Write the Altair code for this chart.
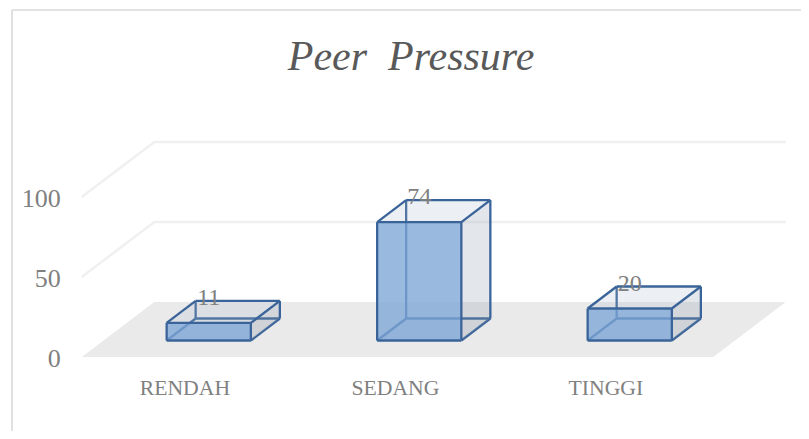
import altair as alt
import pandas as pd

categories = ["RENDAH", "SEDANG", "TINGGI"]
values = [11, 74, 20]
grid_values = [50, 100]
tick_values = [0, 50, 100]
title_text = "Peer\u00a0\u00a0Pressure"

# Oblique projection of (category, value, depth) into the two chart scales
DEPTH_X = 72.5 / 210.5   # category units per unit of depth
DEPTH_Y = 55 / 1.6       # value units per unit of depth
BAR_W, D0, D1 = 0.4, 0.3, 0.7

def px(c, d):
    return c + DEPTH_X * d

def py(v, d):
    return v + DEPTH_Y * d

x_min, x_max = (8 - 187) / 210.5, (801 - 187) / 210.5
y_min, y_max = -(431 - 357) / 1.6, (357 - 8) / 1.6
x_scale = alt.Scale(domain=[x_min, x_max], nice=False, zero=False)
y_scale = alt.Scale(domain=[y_min, y_max], nice=False, zero=False)
X = lambda f: alt.X(f, type="quantitative", scale=x_scale, axis=None)
Y = lambda f: alt.Y(f, type="quantitative", scale=y_scale, axis=None)

# Floor (horizontal parallel sides)
floor = pd.DataFrame(
    [{"sy": py(0, d), "x0": px(-0.5, d), "x1": px(2.5, d)} for d in (0, 1)]
)
# Frame
frame_x, frame_y = -0.8314, 216.9
frame_top = pd.DataFrame({"sx": [frame_x, x_max], "sy": [frame_y, frame_y]})
frame_left = pd.DataFrame({"sx": [frame_x, frame_x], "sy": [y_min, frame_y]})

# Grid lines
grid_rows = []
for g in grid_values:
    grid_rows += [
        {"g": g, "o": 0, "sx": px(-0.5, 0), "sy": py(g, 0)},
        {"g": g, "o": 1, "sx": px(-0.5, 1), "sy": py(g, 1)},
        {"g": g, "o": 2, "sx": px(2.5, 1), "sy": py(g, 1)},
    ]
grid = pd.DataFrame(grid_rows)

# Bars
vert_faces, horiz_faces, front_faces, back_edges, front_edges = [], [], [], [], []
for i, (cat, v) in enumerate(zip(categories, values)):
    l, r = i - BAR_W / 2, i + BAR_W / 2
    for d in (D0, D1):
        vert_faces.append({"f": f"r{i}", "sx": px(r, d), "y0": py(0, d), "y1": py(v, d)})
    for d in (D0, D1):
        horiz_faces.append({"f": f"t{i}", "kind": "top", "sy": py(v, d), "x0": px(l, d), "x1": px(r, d)})
        horiz_faces.append({"f": f"b{i}", "kind": "bottom", "sy": py(0, d), "x0": px(l, d), "x1": px(r, d)})
    front_faces.append({"x0": px(l, D0), "x1": px(r, D0), "y0": py(0, D0), "y1": py(v, D0)})

    def edge(store, name, a, b):
        store.append({"e": f"{i}{name}", "o": 0, "sx": px(a[0], a[2]), "sy": py(a[1], a[2])})
        store.append({"e": f"{i}{name}", "o": 1, "sx": px(b[0], b[2]), "sy": py(b[1], b[2])})

    # hidden edges (seen through the front face)
    edge(back_edges, "a", (l, 0, D0), (l, 0, D1))
    edge(back_edges, "b", (l, 0, D1), (r, 0, D1))
    edge(back_edges, "c", (l, 0, D1), (l, v, D1))
    edge(back_edges, "d", (r, 0, D0), (r, 0, D1))
    # visible edges
    edge(front_edges, "e", (l, 0, D0), (r, 0, D0))
    edge(front_edges, "f", (r, 0, D0), (r, v, D0))
    edge(front_edges, "g", (r, v, D0), (l, v, D0))
    edge(front_edges, "h", (l, v, D0), (l, 0, D0))
    edge(front_edges, "i", (l, v, D0), (l, v, D1))
    edge(front_edges, "j", (l, v, D1), (r, v, D1))
    edge(front_edges, "k", (r, v, D1), (r, v, D0))
    edge(front_edges, "l", (r, v, D1), (r, 0, D1))

vert_df = pd.DataFrame(vert_faces)
horiz_df = pd.DataFrame(horiz_faces)
front_df = pd.DataFrame(front_faces)
back_df = pd.DataFrame(back_edges)
edges_df = pd.DataFrame(front_edges)

labels_df = pd.DataFrame({
    "sx": [px(i, D0) for i in range(3)],
    "sy": [py(v, D1) for v in values],
    "t": [str(v) for v in values],
})
cat_df = pd.DataFrame({"sx": [i - 0.01 for i in range(3)], "sy": [-19.4] * 3, "t": categories})
tick_df = pd.DataFrame({"sx": [-0.6] * 3, "sy": tick_values, "t": [str(t) for t in tick_values]})
title_df = pd.DataFrame({"sx": [1.0643], "sy": [187.5], "t": [title_text]})

SERIF = "Liberation Serif"
EDGE = "#3A6499"
GREY = "#808080"

layers = [
    alt.Chart(frame_top).mark_line(color="#D9D9D9", strokeWidth=1.6).encode(x=X("sx"), y=Y("sy")),
    alt.Chart(frame_left).mark_line(color="#D9D9D9", strokeWidth=1.6).encode(x=X("sx"), y=Y("sy")),
    alt.Chart(floor).mark_area(orient="horizontal", color="#EAEAEA").encode(y=Y("sy"), x=X("x0"), x2="x1"),
    alt.Chart(grid).mark_line(color="#F0F0F0", strokeWidth=2.4).encode(x=X("sx"), y=Y("sy"), detail="g:N", order="o:Q"),
    alt.Chart(horiz_df[horiz_df.kind == "bottom"]).mark_area(orient="horizontal", color="#8E9AAC", opacity=0.06).encode(y=Y("sy"), x=X("x0"), x2="x1", detail="f:N"),
    alt.Chart(back_df).mark_line(color=EDGE, strokeWidth=2.3).encode(x=X("sx"), y=Y("sy"), detail="e:N", order="o:Q"),
    alt.Chart(vert_df).mark_area(color="#8E9AAC", opacity=0.25).encode(x=X("sx"), y=Y("y0"), y2="y1", detail="f:N"),
    alt.Chart(horiz_df[horiz_df.kind == "top"]).mark_area(orient="horizontal", color="#A9B8C8", opacity=0.22).encode(y=Y("sy"), x=X("x0"), x2="x1", detail="f:N"),
    alt.Chart(front_df).mark_rect(color="#7CA5D6", opacity=0.78).encode(x=X("x0"), x2="x1", y=Y("y0"), y2="y1"),
    alt.Chart(edges_df).mark_line(color=EDGE, strokeWidth=2.3).encode(x=X("sx"), y=Y("sy"), detail="e:N", order="o:Q"),
    alt.Chart(labels_df).mark_text(font=SERIF, fontSize=24, color=GREY, baseline="middle", dy=-3).encode(x=X("sx"), y=Y("sy"), text="t:N"),
    alt.Chart(cat_df).mark_text(font=SERIF, fontSize=21.7, color=GREY, baseline="middle", align="center").encode(x=X("sx"), y=Y("sy"), text="t:N"),
    alt.Chart(tick_df).mark_text(font=SERIF, fontSize=26, color=GREY, baseline="middle", align="right", dy=1.5).encode(x=X("sx"), y=Y("sy"), text="t:N"),
    alt.Chart(title_df).mark_text(font=SERIF, fontSize=42, fontStyle="italic", color="#595959", baseline="middle", align="center").encode(x=X("sx"), y=Y("sy"), text="t:N"),
]

chart = alt.layer(*layers).properties(
    width=793, height=423, padding=0, autosize=alt.AutoSizeParams(type="none"), background="white"
).configure_view(stroke=None)

chart.save("out.html", embed_options={"renderer": "svg", "actions": False})
